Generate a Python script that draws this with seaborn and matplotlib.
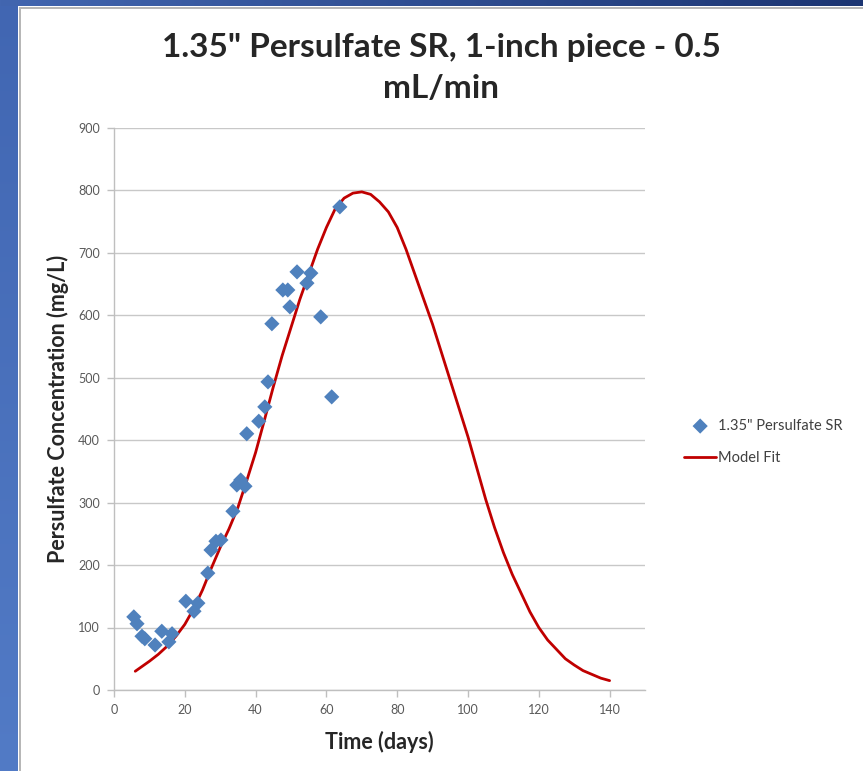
import numpy as np
import pandas as pd
import matplotlib
matplotlib.use("Agg")
import matplotlib.pyplot as plt
import seaborn as sns

# ---- data ----
obs_time = [5.6, 6.5, 7.9, 8.7, 11.6, 13.5, 15.5, 16.4, 20.3, 22.6, 23.7, 26.5,
            27.4, 28.8, 30.2, 33.6, 34.7, 35.8, 37.0, 37.5, 40.9, 42.6, 43.5,
            44.6, 47.7, 49.1, 49.7, 51.7, 54.5, 55.6, 58.4, 61.5, 63.8]
obs_conc = [117, 106, 86, 82, 72, 94, 77, 90, 142, 126, 139, 187,
            224, 238, 240, 286, 328, 336, 326, 410, 430, 453, 493,
            586, 640, 640, 613, 669, 651, 667, 597, 469, 773]

fit_time = [6, 8, 10, 12.5, 15, 17.5, 20, 22.5, 25, 27.5, 30, 32.5, 35, 37.5,
            40, 42.5, 45, 47.5, 50, 52.5, 55, 57.5, 60, 62.5, 65, 67.5, 70,
            72.5, 75, 77.5, 80, 82.5, 85, 87.5, 90, 92.5, 95, 97.5, 100, 102.5,
            105, 107.5, 110, 112.5, 115, 117.5, 120, 122.5, 125, 127.5, 130,
            132.5, 135, 137.5, 140]
fit_conc = [30, 38, 46, 57, 70, 86, 105, 130, 160, 195, 228, 258, 292, 335,
            380, 432, 485, 535, 580, 625, 665, 705, 740, 770, 787, 795, 797,
            793, 781, 765, 740, 705, 665, 625, 585, 540, 495, 450, 405, 355,
            305, 260, 220, 185, 155, 125, 100, 80, 65, 50, 40,
            31, 25, 19, 15]

x_ticks = [0, 20, 40, 60, 80, 100, 120, 140]
y_ticks = [0, 100, 200, 300, 400, 500, 600, 700, 800, 900]

title_line1 = "1.35\" Persulfate SR, 1-inch piece - 0.5"
title_line2 = "mL/min"
series_label = "1.35\" Persulfate SR"
fit_label = "Model Fit"

obs = pd.DataFrame({"t": obs_time, "c": obs_conc})
fit = pd.DataFrame({"t": fit_time, "c": fit_conc})

sns.set_style("white")
plt.rcParams["font.family"] = ["Lato", "DejaVu Sans"]

W, H = 863, 771
fig = plt.figure(figsize=(W / 100, H / 100), dpi=100)

# background frame (blue band left and top)
bg = fig.add_axes([0, 0, 1, 1], zorder=-5)
bg.set_axis_off()
img = np.ones((H, W, 3))
left_top = np.array([0x41, 0x66, 0xb2]) / 255
left_bot = np.array([0x52, 0x7b, 0xc6]) / 255
for r in range(H):
    f = r / (H - 1)
    img[r, :18] = left_top * (1 - f) + left_bot * f
top_l = np.array([0x42, 0x66, 0xb0]) / 255
top_r = np.array([0x1c, 0x35, 0x72]) / 255
for c in range(W):
    f = c / (W - 1)
    img[:6, c] = top_l * (1 - f) + top_r * f
img[7:, 19:21] = np.array([0.72, 0.72, 0.72])
img[7:9, 19:] = np.array([0.72, 0.72, 0.72])
bg.imshow(img, extent=[0, 1, 0, 1], aspect="auto", interpolation="nearest")
bg.set_xlim(0, 1)
bg.set_ylim(0, 1)

ax = fig.add_axes([114 / W, 1 - 690 / H, (645 - 114) / W, (690 - 127.5) / H])
ax.set_facecolor("none")

sns.lineplot(data=fit, x="t", y="c", ax=ax, color="#c00000", linewidth=2.0,
             label=fit_label, zorder=2)
sns.scatterplot(data=obs, x="t", y="c", ax=ax, marker="D", color="#4f81bd",
                s=60, edgecolor="none", label=series_label, zorder=3)

ax.set_xlim(0, 150)
ax.set_ylim(0, 900)
ax.set_xticks(x_ticks)
ax.set_yticks(y_ticks)
ax.yaxis.grid(True, color="#c8c8c8", linewidth=1.0)
ax.xaxis.grid(False)
ax.set_axisbelow(True)
for side in ["top", "right"]:
    ax.spines[side].set_visible(False)
for side in ["left", "bottom"]:
    ax.spines[side].set_color("#bfbfbf")
    ax.spines[side].set_linewidth(1.0)
ax.tick_params(axis="both", which="major", direction="out", length=5,
               width=1.0, color="#bfbfbf", labelsize=9, labelcolor="#595959",
               pad=5)
ax.tick_params(axis="x", bottom=True)
ax.tick_params(axis="y", left=True)

ax.set_xlabel("Time (days)", fontsize=15.5, fontweight="bold", va="center")
ax.xaxis.set_label_coords(0.5, (690 - 742) / 562.5)
ax.set_ylabel("Persulfate Concentration (mg/L)", fontsize=15.5,
              fontweight="bold", va="center")
ax.yaxis.set_label_coords((58 - 114) / 531, 0.5)

fig.text(441 / W, 1 - 57 / H, title_line1,
         ha="center", va="baseline", fontsize=24, fontweight="bold")
fig.text(441 / W, 1 - 98 / H, title_line2,
         ha="center", va="baseline", fontsize=24, fontweight="bold")

handles, labels = ax.get_legend_handles_labels()
order = [labels.index(series_label), labels.index(fit_label)]
leg = ax.legend([handles[i] for i in order], [labels[i] for i in order],
                loc="center left", bbox_to_anchor=(671 / W, 1 - 442 / H),
                bbox_transform=fig.transFigure, frameon=False, fontsize=10.5,
                handlelength=2.2, handletextpad=0.1, labelspacing=1.25,
                labelcolor="#404040")

fig.savefig("out.png", dpi=100)
